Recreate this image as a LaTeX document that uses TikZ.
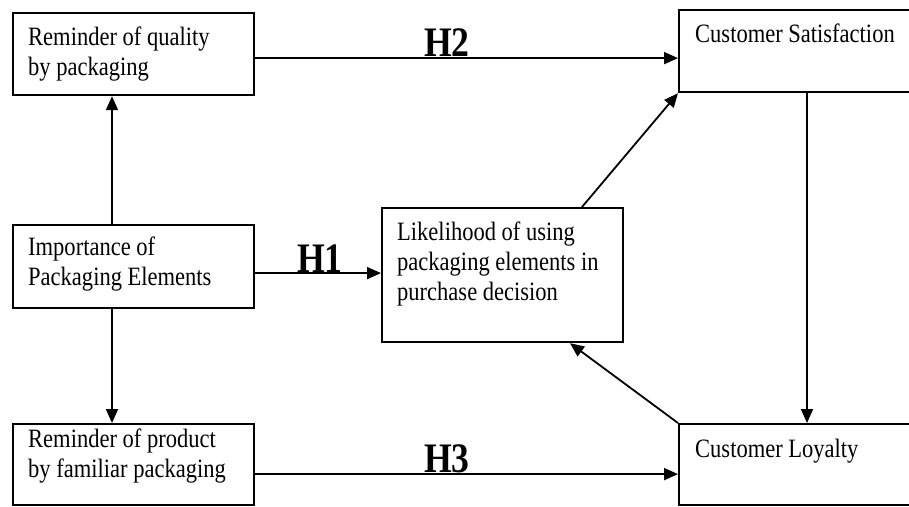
\documentclass[tikz,border=0pt]{standalone}
\usepackage{fontspec}
\setmainfont{Liberation Serif}[FakeStretch=0.85]
\usetikzlibrary{arrows.meta}
\tikzset{
  box/.style={draw=black, line width=2.2pt, fill=white, inner sep=0pt, anchor=north west},
  txt/.style={anchor=base west, inner sep=0pt, font=\fontsize{26.5}{30}\selectfont},
  hyp/.style={anchor=base, inner sep=0pt, font=\fontsize{42}{46}\selectfont\bfseries},
  arr/.style={line width=1.8pt, -{Triangle[length=14pt,width=12pt]}}
}
\begin{document}
\begin{tikzpicture}[x=1pt,y=-1pt]
\useasboundingbox (0,0) rectangle (909,506);
\clip (0,0) rectangle (909,506);
% boxes
\node[box, minimum width=241pt, minimum height=82pt] (q) at (12,12) {};
\node[box, minimum width=241pt, minimum height=83pt] (imp) at (12,224) {};
\node[box, minimum width=241pt, minimum height=81pt] (p) at (12,423) {};
\node[box, minimum width=241pt, minimum height=134pt] (lik) at (381,207) {};
\node[box, minimum width=250pt, minimum height=82pt] (cs) at (678,9) {};
\node[box, minimum width=250pt, minimum height=81pt] (cl) at (678,423) {};
% texts
\node[txt] (tq) at (28,45) {\vtop{\hbox{Reminder of quality}\hbox{by packaging}}};
\node[txt] (timp) at (28,255) {\vtop{\hbox{Importance of}\hbox{Packaging Elements}}};
\node[txt] (tp) at (28,447) {\vtop{\hbox{Reminder of product}\hbox{by familiar packaging}}};
\node[txt] (tlik) at (397,240) {\vtop{\hbox{Likelihood of using}\hbox{packaging elements in}\hbox{purchase decision}}};
\node[txt] (tcs) at (695,42) {Customer Satisfaction};
\node[txt] (tcl) at (695,457) {Customer Loyalty};
% connectors
\coordinate (a1) at ([yshift=-4pt]q.east);
\draw[arr] (a1) -- (a1 -| cs.west);
\coordinate (a2) at ([yshift=-6.5pt]imp.east);
\draw[arr] (a2) -- (a2 -| lik.west);
\coordinate (a3) at ([yshift=-9.5pt]p.east);
\draw[arr] (a3) -- (a3 -| cl.west);
\draw[arr] ([xshift=100pt]imp.north west) -- ([xshift=100pt]q.south west);
\draw[arr] ([xshift=100pt]imp.south west) -- ([xshift=100pt]p.north west);
\draw[arr] ([xshift=201pt]lik.north west) -- (cs.south west);
\draw[arr] ([xshift=129pt]cs.south west) -- ([xshift=129pt]cl.north west);
\draw[arr] (cl.north west) -- ([xshift=189pt]lik.south west);
% hypothesis labels
\node[hyp] (h2) at (447,56) {H2};
\node[hyp] (h1) at (320,272) {H1};
\node[hyp] (h3) at (447,472) {H3};
\end{tikzpicture}
\end{document}
